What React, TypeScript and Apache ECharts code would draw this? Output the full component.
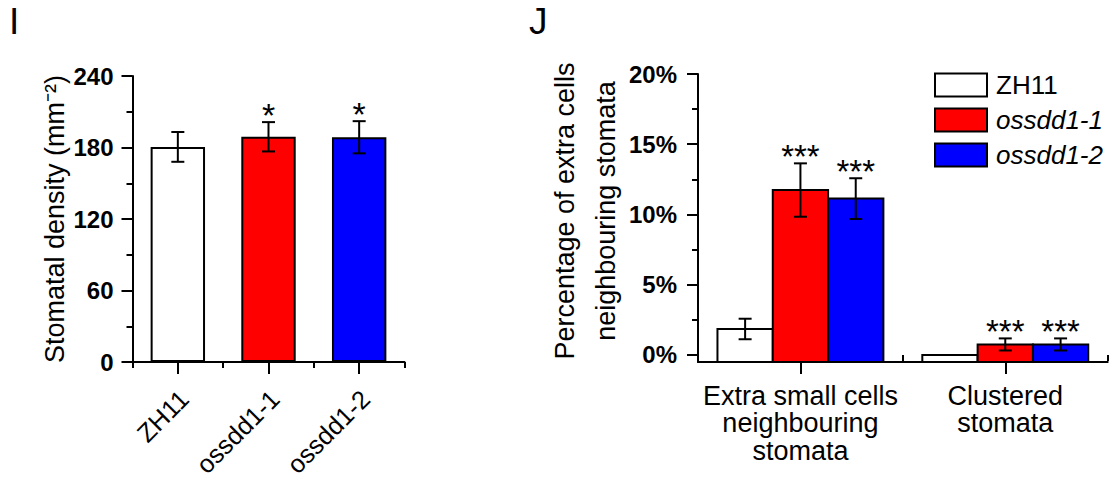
import React, { useEffect, useRef } from 'react';
import * as echarts from 'echarts';

const FONT = 'Arial, "Liberation Sans", Helvetica, sans-serif';

// ---------- Panel I : stomatal density ----------
const densityCategories = ['ZH11', 'ossdd1-1', 'ossdd1-2'];
const densityMeans = [180.5, 189.0, 188.6];
const densityErrors = [12.5, 12.3, 13.5];
const densityStars = ['', '*', '*'];
const densityColors = ['#ffffff', '#ff0000', '#0000ff'];
const DENSITY_MIN = 0;
const DENSITY_MAX = 240;
const DENSITY_STEP = 60;

// ---------- Panel J : extra cells neighbouring stomata ----------
const phenotypeCategories = ['Extra small cells\nneighbouring\nstomata', 'Clustered\nstomata'];
const lineNames = ['ZH11', 'ossdd1-1', 'ossdd1-2'];
const lineColors = ['#ffffff', '#ff0000', '#0000ff'];
const zh11Pct = [1.85, 0.0];
const ossdd11Pct = [11.74, 0.75];
const ossdd12Pct = [11.13, 0.75];
const zh11Err = [0.73, 0];
const ossdd11Err = [1.9, 0.43];
const ossdd12Err = [1.45, 0.43];
const zh11Stars = ['', ''];
const ossdd11Stars = ['***', '***'];
const ossdd12Stars = ['***', '***'];
const pctMajorTicks = [0, 5, 10, 15, 20];
const pctMinorTicks = [2.5, 7.5, 12.5, 17.5];
const PCT_MIN = -0.5;
const PCT_MAX = 20;

const BLACK = '#000000';
const axisLineStyle = { show: true, onZero: false, lineStyle: { color: BLACK, width: 2 } };
const tickLine = { color: BLACK, width: 2 };

function makeRenderItem(
  errs: number[],
  stars: string[],
  slot: number,
  slots: number,
  barFrac: number,
  fill: string | null,
  yMin: number,
  starSize: number,
  starGap: number
) {
  return (params: any, api: any) => {
    const i = params.dataIndex;
    const cat = api.value(0);
    const v = api.value(1);
    const band = api.size([1, 0])[0];
    const bw = band * barFrac;
    const cx = api.coord([cat, yMin])[0] + (slot - (slots - 1) / 2) * bw;
    const children: any[] = [];
    if (fill) {
      const top = api.coord([cat, v])[1];
      const bottom = api.coord([cat, yMin])[1];
      children.push({
        type: 'rect',
        shape: { x: cx - bw / 2, y: top, width: bw, height: bottom - top },
        style: { fill, stroke: BLACK, lineWidth: 2 },
      });
    }
    const e = errs[i];
    let yTop = api.coord([cat, v])[1];
    if (e > 0) {
      yTop = api.coord([cat, v + e])[1];
      const yBot = api.coord([cat, v - e])[1];
      const cap = 6.5;
      const st = { stroke: BLACK, lineWidth: 2 };
      children.push({ type: 'line', shape: { x1: cx, y1: yTop, x2: cx, y2: yBot }, style: st });
      children.push({ type: 'line', shape: { x1: cx - cap, y1: yTop, x2: cx + cap, y2: yTop }, style: st });
      children.push({ type: 'line', shape: { x1: cx - cap, y1: yBot, x2: cx + cap, y2: yBot }, style: st });
    }
    if (stars[i]) {
      children.push({
        type: 'text',
        x: cx,
        y: yTop - starGap,
        style: {
          text: stars[i],
          fill: BLACK,
          fontSize: starSize,
          fontFamily: FONT,
          align: 'center',
          verticalAlign: 'middle',
        },
      });
    }
    return { type: 'group', children };
  };
}

const rightValues = [zh11Pct, ossdd11Pct, ossdd12Pct];
const rightErrs = [zh11Err, ossdd11Err, ossdd12Err];
const rightStars = [zh11Stars, ossdd11Stars, ossdd12Stars];

const option: any = {
  animation: false,
  backgroundColor: '#ffffff',
  textStyle: { fontFamily: FONT, color: BLACK },
  title: [
    { text: 'I', left: 9, top: 3, padding: 0, textStyle: { fontSize: 37, fontWeight: 'normal', color: BLACK, fontFamily: FONT } },
    { text: 'J', left: 529, top: 3, padding: 0, textStyle: { fontSize: 37, fontWeight: 'normal', color: BLACK, fontFamily: FONT } },
  ],
  legend: {
    orient: 'vertical',
    left: 934,
    top: 72,
    padding: 0,
    itemWidth: 52,
    itemHeight: 23,
    itemGap: 9,
    selectedMode: false,
    textStyle: { fontSize: 26, color: BLACK, fontFamily: FONT, padding: [0, 0, 0, 4] },
    data: lineNames.map((n, k) => ({
      name: n,
      icon: 'rect',
      itemStyle: { color: lineColors[k], borderColor: BLACK, borderWidth: 2 },
      textStyle: k === 0 ? {} : { fontStyle: 'italic' },
    })),
  },
  grid: [
    { left: 132.5, top: 76, width: 272, height: 286, containLabel: false, outerBoundsMode: 'none' },
    { left: 698, top: 74, width: 409.7, height: 288, containLabel: false, outerBoundsMode: 'none' },
  ],
  xAxis: [
    {
      gridIndex: 0,
      type: 'category',
      position: 'bottom',
      data: densityCategories,
      axisLine: axisLineStyle,
      axisTick: { show: true, alignWithLabel: true, length: 12, lineStyle: tickLine },
      axisLabel: {
        interval: 0,
        rotate: 45,
        fontSize: 25.5,
        color: BLACK,
        fontFamily: FONT,
        margin: 39,
        padding: [0, -9, 0, 0],
      },
      splitLine: { show: false },
    },
    {
      gridIndex: 0,
      type: 'category',
      position: 'bottom',
      data: densityCategories,
      axisLine: { show: false },
      axisTick: { show: true, alignWithLabel: false, interval: 0, length: 6, lineStyle: tickLine },
      axisLabel: { show: false },
      splitLine: { show: false },
    },
    {
      gridIndex: 1,
      type: 'category',
      position: 'bottom',
      data: phenotypeCategories,
      axisLine: axisLineStyle,
      axisTick: { show: true, alignWithLabel: true, length: 12, lineStyle: tickLine },
      axisLabel: {
        interval: 0,
        fontSize: 27,
        lineHeight: 27.5,
        color: BLACK,
        fontFamily: FONT,
        margin: 20,
        align: 'center',
      },
      splitLine: { show: false },
    },
    {
      gridIndex: 1,
      type: 'category',
      position: 'bottom',
      data: phenotypeCategories,
      axisLine: { show: false },
      axisTick: { show: true, alignWithLabel: false, interval: 0, length: 6, lineStyle: tickLine },
      axisLabel: { show: false },
      splitLine: { show: false },
    },
  ],
  yAxis: [
    {
      gridIndex: 0,
      type: 'value',
      position: 'left',
      min: DENSITY_MIN,
      max: DENSITY_MAX,
      interval: DENSITY_STEP,
      axisLine: axisLineStyle,
      axisTick: { show: true, length: 11, lineStyle: tickLine },
      minorTick: { show: true, splitNumber: 2, length: 6, lineStyle: tickLine },
      splitLine: { show: false },
      minorSplitLine: { show: false },
      axisLabel: { fontSize: 24, fontWeight: 'bold', color: BLACK, margin: 19, fontFamily: FONT },
      name: 'Stomatal density (mm⁻²)',
      nameLocation: 'middle',
      nameGap: 64,
      nameMoveOverlap: false,
      nameTextStyle: { fontSize: 27, color: BLACK, fontFamily: FONT },
    },
    {
      gridIndex: 1,
      type: 'value',
      position: 'left',
      min: PCT_MIN,
      max: PCT_MAX,
      axisLine: axisLineStyle,
      axisTick: { show: true, length: 11, lineStyle: tickLine, customValues: pctMajorTicks },
      splitLine: { show: false },
      axisLabel: {
        customValues: pctMajorTicks,
        formatter: '{value}%',
        fontSize: 24,
        fontWeight: 'bold',
        color: BLACK,
        margin: 21,
        fontFamily: FONT,
      },
      name: 'Percentage of extra cells\nneighbouring stomata',
      nameLocation: 'middle',
      nameGap: 72,
      nameMoveOverlap: false,
      nameTextStyle: { fontSize: 27, lineHeight: 41, color: BLACK, fontFamily: FONT, padding: [0, 0, 0, 14] },
    },
    {
      gridIndex: 1,
      type: 'value',
      position: 'left',
      min: PCT_MIN,
      max: PCT_MAX,
      axisLine: { show: false },
      axisTick: { show: true, length: 6, lineStyle: tickLine, customValues: pctMinorTicks },
      axisLabel: { show: false },
      splitLine: { show: false },
    },
  ],
  series: [
    {
      name: 'Stomatal density',
      type: 'bar',
      xAxisIndex: 0,
      yAxisIndex: 0,
      barWidth: '60%',
      itemStyle: { borderColor: BLACK, borderWidth: 2 },
      data: densityMeans.map((v, i) => ({ value: v, itemStyle: { color: densityColors[i] } })),
      z: 2,
    },
    {
      name: 'Stomatal density error',
      type: 'custom',
      xAxisIndex: 0,
      yAxisIndex: 0,
      z: 3,
      data: densityMeans.map((v, i) => [i, v]),
      renderItem: makeRenderItem(densityErrors, densityStars, 0, 1, 0.6, null, DENSITY_MIN, 34, 7),
    },
    ...lineNames.map((n, k) => ({
      name: n,
      type: 'custom',
      xAxisIndex: 2,
      yAxisIndex: 1,
      z: 3,
      itemStyle: { color: lineColors[k], borderColor: BLACK, borderWidth: 2 },
      data: rightValues[k].map((v, i) => [i, v]),
      renderItem: makeRenderItem(rightErrs[k], rightStars[k], k, 3, 0.27, lineColors[k], PCT_MIN, 33, 6.5),
    })),
  ],
};

export default function App() {
  const ref = useRef<HTMLDivElement>(null);
  useEffect(() => {
    if (!ref.current) return;
    const chart = echarts.init(ref.current, null, { renderer: 'svg' });
    chart.setOption(option);
    return () => chart.dispose();
  }, []);
  return (
    <div
      ref={ref}
      style={{ position: 'fixed', left: 0, top: 0, width: 1113, height: 478, background: '#ffffff' }}
    />
  );
}
